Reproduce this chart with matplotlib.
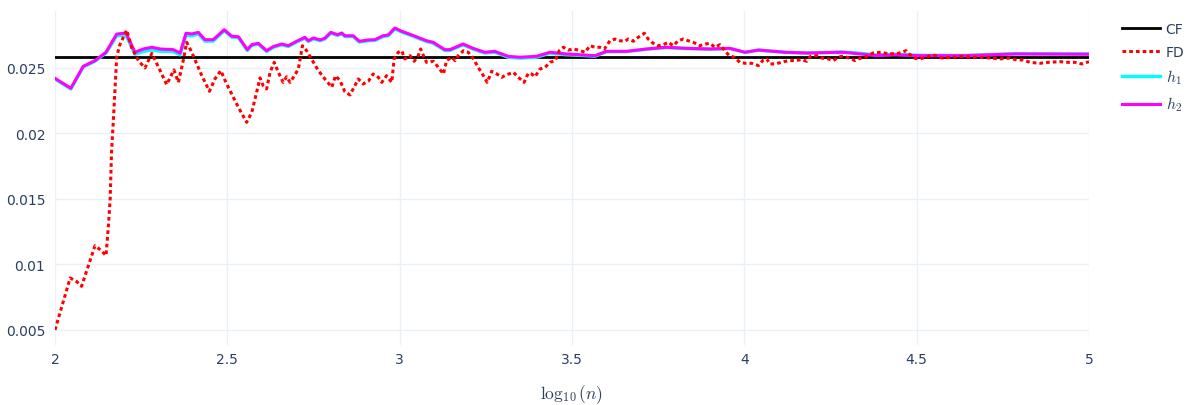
import matplotlib
matplotlib.use("Agg")
import matplotlib.pyplot as plt
from matplotlib.lines import Line2D

plt.rcParams['mathtext.fontset'] = 'cm'

# ---------------- data ----------------
cf_value = 0.0258

fd_x = [2.000, 2.044, 2.063, 2.077, 2.116, 2.135, 2.148, 2.155, 2.160, 2.164, 2.169, 2.179,
        2.187, 2.208, 2.222, 2.242, 2.261, 2.271, 2.281, 2.305, 2.324, 2.345, 2.358, 2.372,
        2.382, 2.392, 2.401, 2.426, 2.448, 2.464, 2.481, 2.498, 2.532, 2.556, 2.571, 2.585,
        2.595, 2.604, 2.614, 2.624, 2.636, 2.648, 2.662, 2.672, 2.682, 2.696, 2.706, 2.718,
        2.730, 2.747, 2.764, 2.783, 2.803, 2.814, 2.827, 2.841, 2.856, 2.865, 2.880, 2.894,
        2.909, 2.923, 2.938, 2.948, 2.962, 2.977, 2.984, 2.996, 3.006, 3.015, 3.030, 3.042,
        3.054, 3.061, 3.069, 3.078, 3.098, 3.112, 3.127, 3.136, 3.151, 3.161, 3.170, 3.185,
        3.199, 3.214, 3.228, 3.243, 3.254, 3.267, 3.282, 3.296, 3.311, 3.330, 3.344, 3.361,
        3.373, 3.383, 3.393, 3.407, 3.422, 3.436, 3.451, 3.463, 3.475, 3.489, 3.504, 3.518,
        3.538, 3.552, 3.567, 3.581, 3.594, 3.610, 3.625, 3.639, 3.654, 3.663, 3.678, 3.692,
        3.710, 3.721, 3.736, 3.750, 3.765, 3.779, 3.794, 3.808, 3.823, 3.837, 3.852, 3.871,
        3.886, 3.900, 3.915, 3.929, 3.944, 3.956, 3.971, 3.987, 4.002, 4.021, 4.041, 4.055,
        4.065, 4.074, 4.089, 4.108, 4.128, 4.147, 4.166, 4.181, 4.191, 4.210, 4.224, 4.244,
        4.258, 4.273, 4.282, 4.297, 4.311, 4.321, 4.336, 4.350, 4.374, 4.398, 4.418, 4.447,
        4.469, 4.481, 4.495, 4.510, 4.548, 4.573, 4.602, 4.631, 4.660, 4.689, 4.713, 4.742,
        4.771, 4.790, 4.809, 4.829, 4.858, 4.882, 4.916, 4.940, 4.960, 4.979, 5.000]
fd_y = [0.00500, 0.00897, 0.00869, 0.00833, 0.01143, 0.01105, 0.01067, 0.01296, 0.01500, 0.01856,
        0.02085, 0.02582, 0.02670, 0.02790, 0.02658, 0.02556, 0.02500, 0.02556, 0.02612, 0.02480,
        0.02373, 0.02485, 0.02390, 0.02556, 0.02696, 0.02645, 0.02594, 0.02441, 0.02322, 0.02416,
        0.02480, 0.02378, 0.02200, 0.02085, 0.02162, 0.02315, 0.02424, 0.02365, 0.02340, 0.02467,
        0.02543, 0.02467, 0.02390, 0.02433, 0.02390, 0.02447, 0.02492, 0.02670, 0.02632, 0.02556,
        0.02480, 0.02416, 0.02353, 0.02441, 0.02403, 0.02319, 0.02294, 0.02340, 0.02416, 0.02378,
        0.02398, 0.02454, 0.02429, 0.02390, 0.02441, 0.02390, 0.02569, 0.02620, 0.02632, 0.02569,
        0.02594, 0.02551, 0.02594, 0.02645, 0.02594, 0.02543, 0.02551, 0.02505, 0.02454, 0.02556,
        0.02582, 0.02556, 0.02594, 0.02632, 0.02620, 0.02569, 0.02505, 0.02441, 0.02390, 0.02475,
        0.02454, 0.02429, 0.02449, 0.02467, 0.02429, 0.02390, 0.02460, 0.02454, 0.02433, 0.02492,
        0.02505, 0.02543, 0.02556, 0.02632, 0.02658, 0.02637, 0.02645, 0.02637, 0.02620, 0.02670,
        0.02658, 0.02658, 0.02645, 0.02708, 0.02721, 0.02708, 0.02704, 0.02721, 0.02704, 0.02734,
        0.02765, 0.02721, 0.02688, 0.02670, 0.02678, 0.02696, 0.02670, 0.02708, 0.02721, 0.02708,
        0.02696, 0.02670, 0.02683, 0.02688, 0.02658, 0.02678, 0.02632, 0.02594, 0.02582, 0.02543,
        0.02536, 0.02536, 0.02518, 0.02561, 0.02569, 0.02531, 0.02531, 0.02543, 0.02556, 0.02556,
        0.02564, 0.02551, 0.02587, 0.02594, 0.02576, 0.02569, 0.02556, 0.02582, 0.02589, 0.02582,
        0.02569, 0.02556, 0.02574, 0.02582, 0.02615, 0.02620, 0.02607, 0.02612, 0.02632, 0.02601,
        0.02574, 0.02569, 0.02600, 0.02576, 0.02582, 0.02589, 0.02582, 0.02582, 0.02576, 0.02569,
        0.02576, 0.02561, 0.02561, 0.02543, 0.02536, 0.02543, 0.02548, 0.02543, 0.02543, 0.02531,
        0.02548]

h_x = [2.000, 2.046, 2.082, 2.116, 2.148, 2.179, 2.206, 2.232, 2.256, 2.281, 2.305, 2.343,
       2.363, 2.380, 2.397, 2.416, 2.435, 2.459, 2.491, 2.513, 2.532, 2.558, 2.571, 2.590,
       2.614, 2.633, 2.658, 2.677, 2.701, 2.725, 2.735, 2.750, 2.769, 2.783, 2.800, 2.820,
       2.832, 2.841, 2.865, 2.883, 2.909, 2.928, 2.952, 2.967, 2.986, 3.006, 3.035, 3.078,
       3.097, 3.131, 3.146, 3.184, 3.213, 3.247, 3.276, 3.315, 3.349, 3.397, 3.436, 3.484,
       3.523, 3.567, 3.600, 3.658, 3.716, 3.774, 3.832, 3.900, 3.958, 4.002, 4.041, 4.118,
       4.181, 4.282, 4.311, 4.384, 4.437, 4.505, 4.640, 4.785, 5.000]
h2_y = [0.02421, 0.02345, 0.02513, 0.02556, 0.02620, 0.02759, 0.02767, 0.02620, 0.02645, 0.02658,
        0.02645, 0.02640, 0.02614, 0.02765, 0.02760, 0.02772, 0.02716, 0.02716, 0.02792, 0.02742,
        0.02739, 0.02640, 0.02678, 0.02688, 0.02632, 0.02663, 0.02683, 0.02670, 0.02704, 0.02734,
        0.02708, 0.02729, 0.02714, 0.02727, 0.02772, 0.02754, 0.02767, 0.02746, 0.02746, 0.02704,
        0.02714, 0.02716, 0.02746, 0.02752, 0.02805, 0.02780, 0.02752, 0.02708, 0.02696, 0.02640,
        0.02640, 0.02683, 0.02650, 0.02620, 0.02627, 0.02589, 0.02582, 0.02589, 0.02620, 0.02607,
        0.02601, 0.02594, 0.02627, 0.02627, 0.02645, 0.02658, 0.02650, 0.02645, 0.02650, 0.02620,
        0.02637, 0.02620, 0.02614, 0.02620, 0.02614, 0.02594, 0.02601, 0.02594, 0.02594, 0.02607,
        0.02605]
h1_y = [0.02416, 0.02340, 0.02508, 0.02551, 0.02615, 0.02745, 0.02750, 0.02605, 0.02625, 0.02638,
        0.02628, 0.02625, 0.02600, 0.02750, 0.02745, 0.02760, 0.02705, 0.02705, 0.02785, 0.02735,
        0.02732, 0.02634, 0.02672, 0.02682, 0.02626, 0.02657, 0.02677, 0.02664, 0.02698, 0.02728,
        0.02702, 0.02723, 0.02708, 0.02721, 0.02766, 0.02748, 0.02761, 0.02740, 0.02740, 0.02698,
        0.02708, 0.02710, 0.02740, 0.02746, 0.02799, 0.02774, 0.02746, 0.02702, 0.02690, 0.02634,
        0.02634, 0.02677, 0.02644, 0.02614, 0.02620, 0.02582, 0.02575, 0.02582, 0.02613, 0.02601,
        0.02596, 0.02590, 0.02624, 0.02625, 0.02643, 0.02656, 0.02648, 0.02643, 0.02648, 0.02619,
        0.02636, 0.02619, 0.02614, 0.02622, 0.02618, 0.02600, 0.02605, 0.02597, 0.02596, 0.02609,
        0.02607]

x_ticks = [2, 2.5, 3, 3.5, 4, 4.5, 5]
x_tick_labels = ["2", "2.5", "3", "3.5", "4", "4.5", "5"]
y_ticks = [0.005, 0.01, 0.015, 0.02, 0.025]
y_tick_labels = ["0.005", "0.01", "0.015", "0.02", "0.025"]
labels = ["CF", "FD", r"$h_1$", r"$h_2$"]

# ---------------- figure ----------------
W, H = 1196, 406
fig = plt.figure(figsize=(W / 100, H / 100), dpi=100)
ax = fig.add_axes([55 / W, 1 - 346 / H, (1089 - 55) / W, (346 - 12) / H])

text_color = "#2a3f5f"
grid_color = "#ebf0f8"

ax.plot([2, 5], [cf_value, cf_value], color="black", lw=2.0, zorder=3)
ax.plot(h_x, h1_y, color="#00ffff", lw=2.4, zorder=4)
ax.plot(h_x, h2_y, color="#ff00ff", lw=2.2, zorder=5)
ax.plot(fd_x, fd_y, color="#ff0000", lw=2.2, linestyle=(0, (1.2, 1.0)), zorder=6)

ax.set_xlim(2, 5)
ax.set_ylim(0.00385, 0.02935)
ax.set_xticks(x_ticks)
ax.set_xticklabels(x_tick_labels)
ax.set_yticks(y_ticks)
ax.set_yticklabels(y_tick_labels)
ax.tick_params(axis="both", length=0, colors=text_color, labelsize=10)
ax.tick_params(axis="x", pad=5)
ax.tick_params(axis="y", pad=7)
for s in ax.spines.values():
    s.set_visible(False)
ax.grid(True, color=grid_color, lw=1.0, zorder=0)
ax.set_axisbelow(True)
ax.set_xlabel(r"$\log_{10}(n)$", fontsize=12.5, color=text_color, labelpad=12)

handles = [
    Line2D([0], [0], color="black", lw=2.0),
    Line2D([0], [0], color="#ff0000", lw=2.2, linestyle=(0, (1.2, 1.0))),
    Line2D([0], [0], color="#00ffff", lw=2.4),
    Line2D([0], [0], color="#ff00ff", lw=2.2),
]
leg = fig.legend(handles, labels, loc="upper left",
                 bbox_to_anchor=(1122 / W, 1 - 23 / H), frameon=False,
                 fontsize=10, handlelength=2.7, handletextpad=0.45,
                 labelspacing=0.62, borderaxespad=0, borderpad=0)
for i, t in enumerate(leg.get_texts()):
    t.set_color(text_color)
    if i >= 2:
        t.set_fontsize(11.5)

fig.savefig("out.png", dpi=100)
